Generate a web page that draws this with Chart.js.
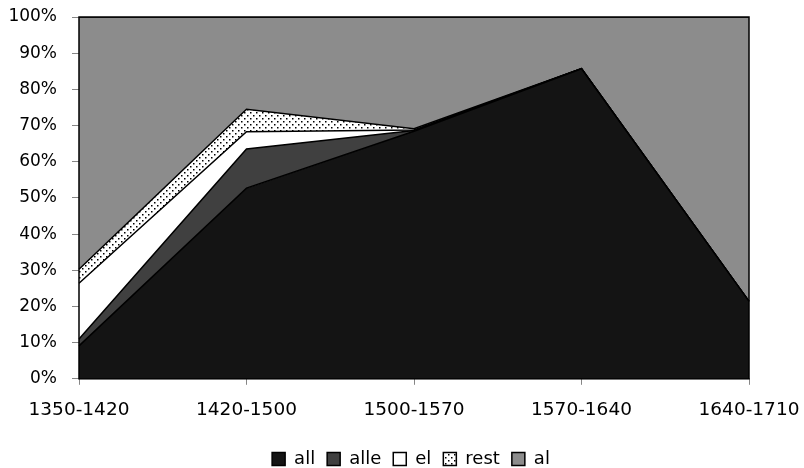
<!DOCTYPE html>
<html>
<head>
<meta charset="utf-8">
<script src="https://cdn.jsdelivr.net/npm/chart.js@4/dist/chart.umd.min.js"></script>
<style>
  html, body { margin: 0; padding: 0; background: #fff; }
  #wrap { width: 804px; height: 468px; }
</style>
</head>
<body>
<div id="wrap"><canvas id="chart" width="804" height="468"></canvas></div>
<script>
// periods on the x axis
const periods = ['1350-1420', '1420-1500', '1500-1570', '1570-1640', '1640-1710'];

// share of each form per period, in percent (bottom to top)
const allValues  = [9.1, 52.7, 68.4, 85.7, 21.4];
const alleValues = [1.9, 10.8, 0.2, 0.0, 0.0];
const elValues   = [15.4, 4.8, 0.2, 0.0, 0.0];
const restValues = [3.9, 6.2, 0.3, 0.0, 0.0];
const alValues   = [69.7, 25.5, 30.9, 14.3, 78.6];

const yTicks = [0, 10, 20, 30, 40, 50, 60, 70, 80, 90, 100];

// dotted fill for "rest"
function dotPattern() {
  const c = document.createElement('canvas')
  c.width = 6
  c.height = 6
  const g = c.getContext('2d')
  g.fillStyle = '#fff'
  g.fillRect(0, 0, 6, 6)
  g.fillStyle = '#000'
  g.fillRect(1, 1, 1.5, 1.5)
  g.fillRect(4, 4, 1.5, 1.5)
  return g.createPattern(c, 'repeat')
}

const ctx = document.getElementById('chart').getContext('2d')
const dots = dotPattern()

function series(label, data, fill, bg) {
  return {
    label: label,
    data: data,
    fill: fill,
    backgroundColor: bg,
    borderColor: '#000',
    borderWidth: 1.5,
    pointRadius: 0,
    tension: 0
  }
}

// black outline on the plot edges, like the area outlines in the original
const frame = {
  id: 'frame',
  afterDatasetsDraw(chart) {
    const a = chart.chartArea
    const g = chart.ctx
    g.save()
    g.strokeStyle = '#000'
    g.lineWidth = 1.5
    g.strokeRect(a.left, a.top, a.right - a.left, a.bottom - a.top)
    g.restore()
  }
}

new Chart(ctx, {
  type: 'line',
  data: {
    labels: periods,
    datasets: [
      series('all', allValues, 'origin', '#141414'),
      series('alle', alleValues, '-1', '#404040'),
      series('el', elValues, '-1', '#ffffff'),
      series('rest', restValues, '-1', dots),
      series('al', alValues, '-1', '#8c8c8c')
    ]
  },
  options: {
    responsive: false,
    animation: false,
    layout: { padding: { left: 0, right: -18, top: 17, bottom: -10 } },
    plugins: {
      tooltip: { enabled: false },
      legend: {
        position: 'bottom',
        labels: {
          color: '#000',
          font: { family: 'DejaVu Sans', size: 18 },
          boxWidth: 13,
          boxHeight: 13,
          padding: 12
        }
      }
    },
    scales: {
      x: {
        offset: false,
        afterFit(scale) {
          scale.height += 3
          scale.paddingLeft = 0
          scale.paddingRight = 0
        },
        grid: { drawOnChartArea: false, color: '#868686', tickLength: 6 },
        border: { color: '#868686', width: 1 },
        ticks: {
          color: '#000',
          font: { family: 'DejaVu Sans', size: 18.5 },
          padding: 14,
          maxRotation: 0,
          autoSkip: false
        }
      },
      y: {
        stacked: true,
        min: 0,
        max: 100,
        afterFit(scale) {
          scale.width = 79
          scale.paddingTop = 0
          scale.paddingBottom = 0
        },
        afterBuildTicks(scale) { scale.ticks = yTicks.map(v => ({ value: v })) },
        grid: { drawOnChartArea: false, color: '#868686', tickLength: 7 },
        border: { color: '#868686', width: 1 },
        ticks: {
          color: '#000',
          font: { family: 'DejaVu Sans', size: 17 },
          padding: 15,
          callback: v => v + '%'
        }
      },
      // empty right-hand spacer so the plot ends where the original does
      spacer: {
        type: 'linear',
        position: 'right',
        afterFit(scale) {
          scale.width = 73
          scale.paddingTop = 0
          scale.paddingBottom = 0
        },
        grid: { display: false },
        border: { display: false },
        ticks: { display: false }
      }
    }
  },
  plugins: [frame]
})
</script>
</body>
</html>
